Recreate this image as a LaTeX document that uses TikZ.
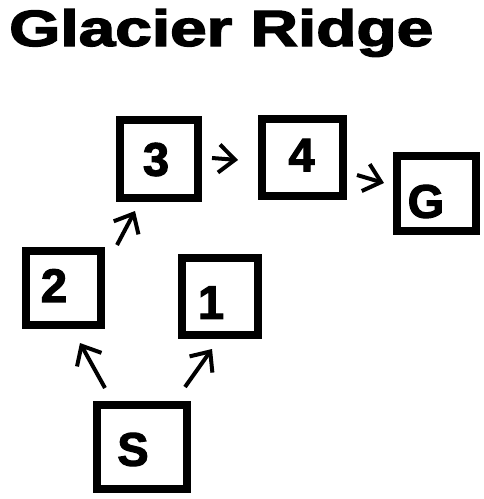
\documentclass[tikz,border=0pt]{standalone}
\usepackage{fontspec}
\newfontfamily\heavy[FakeBold=2.5]{Liberation Sans Bold}
\usetikzlibrary{arrows.meta}
\begin{document}
\begin{tikzpicture}[x=1pt,y=-1pt,
  box/.style={draw, line width=8pt, inner sep=0pt},
  lbl/.style={font=\heavy\fontsize{47}{47}\selectfont, inner sep=0pt},
  arr/.style={line width=4pt, -{Straight Barb[length=16pt,width=28pt]}}]
\useasboundingbox (0,0) rectangle (484,499);
% title
\node[anchor=base west, inner sep=0pt, font=\heavy\fontsize{51}{51}\selectfont] (title) at (9,46) {\scalebox{1.29}[1]{Glacier Ridge}};
% boxes
\node[box, minimum width=78pt, minimum height=78pt] (b3) at (159,159) {};
\node[box, minimum width=81pt, minimum height=77pt] (b4) at (302.5,157.5) {};
\node[box, minimum width=79pt, minimum height=75pt] (bG) at (436.5,193.5) {};
\node[box, minimum width=75pt, minimum height=74pt] (b2) at (63.5,288) {};
\node[box, minimum width=76pt, minimum height=77pt] (b1) at (220,296.5) {};
\node[box, minimum width=90pt, minimum height=84pt] (bS) at (142,447) {};
% labels
\node[lbl] (t3) at (156,159.5) {3};
\node[lbl] (t4) at (301.5,155) {4};
\node[lbl] (tG) at (426,201.5) {G};
\node[lbl] (t2) at (54,285.5) {2};
\node[lbl] (t1) at (211,302.5) {1};
\node[lbl] (tS) at (133,449.5) {S};
% arrow ends
\coordinate (s2a) at (105,388); \coordinate (s2b) at (80,343);
\coordinate (s1a) at (185,387); \coordinate (s1b) at (212,349);
\coordinate (23a) at (117,245); \coordinate (23b) at (135,211);
\coordinate (34a) at (212,158); \coordinate (34b) at (238,160);
\coordinate (4Ga) at (357,175); \coordinate (4Gb) at (384,183);
\draw[arr] (s2a) -- (s2b);
\draw[arr] (s1a) -- (s1b);
\draw[arr] (23a) -- (23b);
\draw[arr] (34a) -- (34b);
\draw[arr] (4Ga) -- (4Gb);
\end{tikzpicture}
\end{document}
